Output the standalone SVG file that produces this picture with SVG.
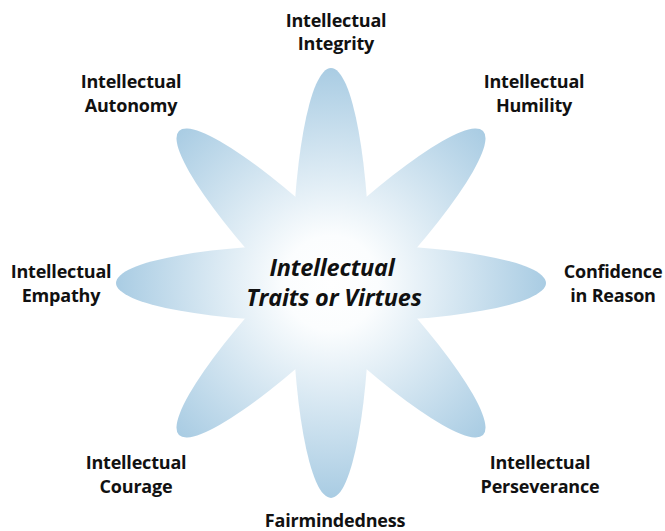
<svg xmlns="http://www.w3.org/2000/svg" width="665" height="531" viewBox="0 0 665 531">
<style>
.lbl{font-family:"Open Sans","Liberation Sans",sans-serif;font-weight:700;font-size:18px;fill:#111;text-anchor:middle;letter-spacing:-0.2px}
.ctr{font-family:"Open Sans","Liberation Sans",sans-serif;font-weight:700;font-style:italic;font-size:23.5px;fill:#111;text-anchor:middle;letter-spacing:-0.2px}
.petal{fill:url(#g)}
</style>
<defs>
<radialGradient id="g" gradientUnits="userSpaceOnUse" cx="331" cy="283" r="215">
<stop offset="0" stop-color="#ffffff"/>
<stop offset="0.22" stop-color="#fbfdfe"/>
<stop offset="1" stop-color="#a9cce3"/>
</radialGradient>
</defs>
<rect width="665" height="531" fill="#ffffff"/>
<g id="star">
<ellipse class="petal" cx="331" cy="283" rx="39" ry="215"/>
<ellipse class="petal" cx="331" cy="283" rx="39" ry="215" transform="rotate(45 331 283)"/>
<ellipse class="petal" cx="331" cy="283" rx="39" ry="215" transform="rotate(90 331 283)"/>
<ellipse class="petal" cx="331" cy="283" rx="39" ry="215" transform="rotate(135 331 283)"/>
</g>
<g id="center"><text class="ctr" x="332" y="276">Intellectual</text><text class="ctr" x="334" y="306">Traits or Virtues</text></g>
<g id="integrity"><text class="lbl" x="336" y="27">Intellectual</text><text class="lbl" x="336" y="50">Integrity</text></g>
<g id="autonomy"><text class="lbl" x="131" y="88">Intellectual</text><text class="lbl" x="131" y="112">Autonomy</text></g>
<g id="humility"><text class="lbl" x="534" y="88">Intellectual</text><text class="lbl" x="534" y="112">Humility</text></g>
<g id="empathy"><text class="lbl" x="61" y="278">Intellectual</text><text class="lbl" x="61" y="302">Empathy</text></g>
<g id="confidence"><text class="lbl" x="613" y="278">Confidence</text><text class="lbl" x="613" y="302">in Reason</text></g>
<g id="courage"><text class="lbl" x="136" y="469">Intellectual</text><text class="lbl" x="136" y="493">Courage</text></g>
<g id="perseverance"><text class="lbl" x="540" y="469">Intellectual</text><text class="lbl" x="540" y="493">Perseverance</text></g>
<g id="fairmindedness"><text class="lbl" x="335" y="527">Fairmindedness</text></g>
<g id="connectors"/>
</svg>
